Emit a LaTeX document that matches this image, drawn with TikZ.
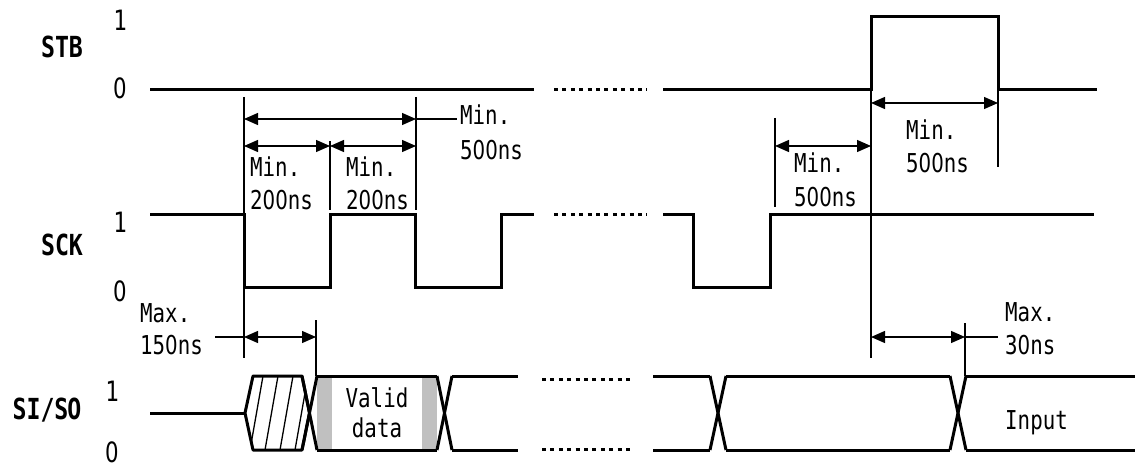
\documentclass[tikz,border=0pt]{standalone}
\usepackage{fontspec}
\setmainfont{DejaVu Sans Mono}[FakeStretch=0.8]
\newfontfamily\plainzerofont{DejaVu Sans}[FakeStretch=0.76]
\newcommand\zz{{\plainzerofont 0}}
\usetikzlibrary{arrows.meta}
\definecolor{strip}{HTML}{C0C0C0}
\begin{document}
\begin{tikzpicture}[x=1pt,y=-1pt,
  sig/.style={line width=3pt},
  dimline/.style={line width=1.3pt},
  dimarr/.style={dimline,{Triangle[length=14pt,width=12pt]}-{Triangle[length=14pt,width=12pt]}},
  dotline/.style={line width=3pt,dash pattern=on 4pt off 4.4pt},
  txt/.style={font=\fontsize{26}{26}\selectfont, inner sep=0pt, text height=19pt, text depth=0pt, anchor=west},
  ctxt/.style={txt, anchor=center},
  lvl/.style={font=\fontsize{28}{28}\selectfont, inner sep=0pt, text height=20.4pt, text depth=0pt},
  lab/.style={font=\fontsize{29}{29}\selectfont\bfseries, inner sep=0pt, text height=21.1pt, text depth=0pt}]
\useasboundingbox (0,0) rectangle (1135,473);

% ---------- labels ----------
\node[lab] (lSTB) at (62,47) {STB};
\node[lab] (lSCK) at (62,245) {SCK};
\node[lab] (lSI) at (47,409) {SI/S\kern-1pt O};
\node[lvl] (s1) at (120,20) {1};
\node[lvl] (s0) at (120,88) {\zz};
\node[lvl] (c1) at (120,222) {1};
\node[lvl] (c0) at (120,291) {\zz};
\node[lvl] (d1) at (112,391) {1};
\node[lvl] (d0) at (112,452) {\zz};

% ---------- STB ----------
\draw[sig] (150,90) -- (534,90);
\draw[dotline] (554,90) -- (647,90);
\draw[sig] (663,90) -- (871,90) -- (871,17) -- (998,17) -- (998,90) -- (1097,90);

% ---------- SCK ----------
\draw[sig] (150,215) -- (244,215) -- (244,287) -- (330,287) -- (330,215) -- (415,215) -- (415,287) -- (501,287) -- (501,215) -- (534,215);
\draw[dotline] (554,215) -- (647,215);
\draw[sig] (663,215) -- (693,215) -- (693,287) -- (770,287) -- (770,215) -- (1094,215);

% ---------- SI/SO ----------
\draw[sig] (150,413) -- (245,413);
\begin{scope}
  \clip (245,413) -- (253,376) -- (302,376) -- (309.5,413) -- (302,450) -- (253,450) -- cycle;
  \foreach \b in {250,265,280,295}
    \draw[dimline] (\b,450) -- (\b+13,376);
\end{scope}
\draw[sig, line join=round] (309.5,413) -- (302,376) -- (253,376) -- (245,413) -- (253,450) -- (302,450) -- (309.5,413);
\fill[strip] (317,376) rectangle (332,450);
\fill[strip] (422,376) rectangle (437,450);
\draw[sig] (302,376) -- (317,450);
\draw[sig] (302,450) -- (317,376);
\draw[sig] (317,376) -- (437,376);
\draw[sig] (317,450) -- (437,450);
\draw[sig] (437,376) -- (452,450);
\draw[sig] (437,450) -- (452,376);
\draw[sig] (452,376) -- (518,376);
\draw[sig] (452,450) -- (518,450);
\draw[dotline] (542,379) -- (633,379);
\draw[dotline] (542,449) -- (633,449);
\draw[sig] (653,376) -- (710,376);
\draw[sig] (653,450) -- (710,450);
\draw[sig] (710,376) -- (726,450);
\draw[sig] (710,450) -- (726,376);
\draw[sig] (726,376) -- (950,376);
\draw[sig] (726,450) -- (950,450);
\draw[sig] (950,376) -- (966,450);
\draw[sig] (950,450) -- (966,376);
\draw[sig] (966,376) -- (1135,376);
\draw[sig] (966,450) -- (1135,450);
\node[ctxt] (valid) at (377,398) {Valid};
\node[ctxt] (data) at (377,428) {data};
\node[txt] (input) at (1005,420) {Input};

% ---------- reference lines ----------
\coordinate (vA1) at (244,97);   \coordinate (vA2) at (244,358);
\coordinate (vB1) at (330,141);  \coordinate (vB2) at (330,210);
\coordinate (vC1) at (416,97);   \coordinate (vC2) at (416,210);
\coordinate (vD1) at (316,320);  \coordinate (vD2) at (316,376);
\coordinate (vE1) at (871,90);   \coordinate (vE2) at (871,358);
\coordinate (vF1) at (998,90);   \coordinate (vF2) at (998,167);
\coordinate (vG1) at (775,118);  \coordinate (vG2) at (775,207);
\coordinate (vH1) at (965,323);  \coordinate (vH2) at (965,376);
\foreach \v in {A,B,C,D,E,F,G,H}
  \draw[dimline] (v\v1) -- (v\v2);

% ---------- dimension arrows ----------
\draw[dimarr] (244,119) -- (416,119);
\draw[dimline] (416,119) -- (457,119);
\draw[dimarr] (244,146) -- (330,146);
\draw[dimarr] (330,146) -- (416,146);
\draw[dimarr] (244,337) -- (316,337);
\draw[dimline] (215,337) -- (244,337);
\draw[dimarr] (871,103) -- (998,103);
\draw[dimarr] (775,146) -- (871,146);
\draw[dimarr] (871,337) -- (965,337);
\draw[dimline] (965,337) -- (998,337);

% ---------- texts ----------
\node[txt] (t1a) at (460,115) {Min.};
\node[txt] (t1b) at (460,150) {5\zz\zz ns};
\node[txt] (t2a) at (250,167) {Min.};
\node[txt] (t2b) at (250,200) {2\zz\zz ns};
\node[txt] (t3a) at (346,167) {Min.};
\node[txt] (t3b) at (346,200) {2\zz\zz ns};
\node[txt] (t4a) at (906,130) {Min.};
\node[txt] (t4b) at (906,163) {5\zz\zz ns};
\node[txt] (t5a) at (794,163) {Min.};
\node[txt] (t5b) at (794,197) {5\zz\zz ns};
\node[txt] (t6a) at (140,313) {Max.};
\node[txt] (t6b) at (140,345) {15\zz ns};
\node[txt] (t7a) at (1005,312) {Max.};
\node[txt] (t7b) at (1005,345) {3\zz ns};
\end{tikzpicture}
\end{document}
